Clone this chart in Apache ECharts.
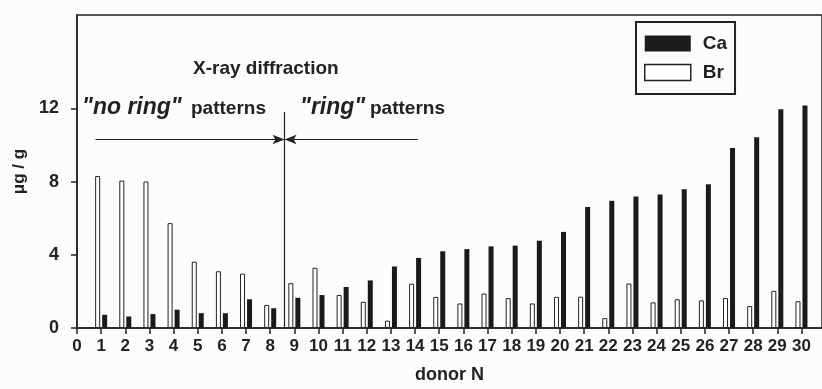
<!DOCTYPE html>
<html>
<head>
<meta charset="utf-8">
<script src="https://cdn.jsdelivr.net/npm/echarts@6/dist/echarts.min.js"></script>
<style>
  html, body {margin: 0; padding: 0; background: #fcfcfc;}
  #chart {width: 822px; height: 389px;}
</style>
</head>
<body>
<div id="chart"></div>
<script>
const donors = [1, 2, 3, 4, 5, 6, 7, 8, 9, 10, 11, 12, 13, 14, 15, 16, 17, 18, 19, 20,
  21, 22, 23, 24, 25, 26, 27, 28, 29, 30];
const br = [8.3, 8.05, 8.0, 5.73, 3.62, 3.1, 2.97, 1.26, 2.45, 3.29, 1.8, 1.43, 0.4, 2.42, 1.7,
  1.34, 1.88, 1.63, 1.34, 1.7, 1.71, 0.54, 2.43, 1.4, 1.57, 1.51, 1.64, 1.2, 2.03, 1.46];
const ca = [0.72, 0.63, 0.76, 1.0, 0.81, 0.81, 1.57, 1.08, 1.65, 1.8, 2.24, 2.6, 3.36, 3.83, 4.19,
  4.31, 4.46, 4.5, 4.77, 5.25, 6.61, 6.95, 7.19, 7.3, 7.58, 7.86, 9.83, 10.42, 11.95, 12.16];
const yTicks = [0, 4, 8, 12];
// divider between "no ring" and "ring" groups, arrow level
const divider = 8.45;
const dividerTop = 11.8;
const arrowY = 10.3;
const arrowLeft = 0.62;
const arrowRight = 13.97;

const ink = '#222';
const font = 'Liberation Sans, Arial, sans-serif';

const chart = echarts.init(document.getElementById('chart'));

chart.setOption({
  backgroundColor: '#fcfcfc',
  animation: false,
  grid: {
    left: 77, right: -5, top: 15, bottom: 58,
    show: true, borderColor: ink, borderWidth: 1.5
  },
  legend: {
    orient: 'vertical',
    left: 636, top: 22,
    itemWidth: 46, itemHeight: 16, itemGap: 10,
    borderColor: ink, borderWidth: 2,
    padding: [12, 8, 12, 8],
    icon: 'rect',
    textStyle: {fontFamily: font, fontWeight: 'bold', fontSize: 19, color: ink, padding: [0, 0, 0, 7]},
    data: [
      {name: 'Ca', itemStyle: {color: '#1a1a1a'}},
      {name: 'Br', itemStyle: {color: '#fff', borderColor: ink, borderWidth: 1.5}}
    ]
  },
  xAxis: {
    type: 'value',
    min: 0, max: 30.85, interval: 1,
    name: 'donor N',
    nameLocation: 'middle',
    nameGap: 38,
    nameTextStyle: {fontFamily: font, fontWeight: 'bold', fontSize: 18, color: ink},
    axisLine: {show: true, lineStyle: {color: ink, width: 1.5}},
    axisTick: {show: true, length: 6, lineStyle: {color: ink, width: 1.5}},
    axisLabel: {fontFamily: font, fontWeight: 'bold', fontSize: 17, color: ink, margin: 10, showMaxLabel: false},
    splitLine: {show: false}
  },
  yAxis: {
    type: 'value',
    min: 0, max: 17.1,
    name: 'μg / g',
    nameLocation: 'middle',
    nameRotate: 90,
    nameGap: 46,
    nameTextStyle: {fontFamily: font, fontWeight: 'bold', fontSize: 17, color: ink},
    axisLine: {show: true, lineStyle: {color: ink, width: 1.5}},
    axisTick: {show: true, length: 6, customValues: yTicks, lineStyle: {color: ink, width: 1.5}},
    axisLabel: {fontFamily: font, fontWeight: 'bold', fontSize: 18, color: ink, margin: 18, customValues: yTicks},
    splitLine: {show: false}
  },
  series: [
    {
      name: 'Br',
      type: 'bar',
      barWidth: 5,
      barGap: '40%',
      data: donors.map((d, i) => [d, br[i]]),
      itemStyle: {color: '#fff', borderColor: ink, borderWidth: 1}
    },
    {
      name: 'Ca',
      type: 'bar',
      barWidth: 5,
      barGap: '40%',
      data: donors.map((d, i) => [d, ca[i]]),
      itemStyle: {color: '#1a1a1a'},
      markLine: {
        silent: true,
        symbol: ['none', 'none'],
        label: {show: false},
        lineStyle: {color: ink, width: 1.2, type: 'solid'},
        data: [
          [{coord: [divider, 0]}, {coord: [divider, dividerTop]}],
          [{coord: [arrowLeft, arrowY], symbol: 'none'},
           {coord: [divider, arrowY], symbol: 'arrow', symbolSize: [7, 12]}],
          [{coord: [arrowRight, arrowY], symbol: 'none'},
           {coord: [divider, arrowY], symbol: 'arrow', symbolSize: [7, 12]}]
        ]
      }
    }
  ],
  graphic: [
    {type: 'text', left: 193, top: 59, style: {text: 'X-ray diffraction', fontFamily: font, fontWeight: 'bold', fontSize: 19, fill: ink}},
    {type: 'text', left: 82, top: 96, style: {text: '"no ring"', fontFamily: font, fontWeight: 'bold', fontStyle: 'italic', fontSize: 23, fill: ink}},
    {type: 'text', left: 191, top: 99, style: {text: 'patterns', fontFamily: font, fontWeight: 'bold', fontSize: 19, fill: ink}},
    {type: 'text', left: 300, top: 96, style: {text: '"ring"', fontFamily: font, fontWeight: 'bold', fontStyle: 'italic', fontSize: 23, fill: ink}},
    {type: 'text', left: 370, top: 99, style: {text: 'patterns', fontFamily: font, fontWeight: 'bold', fontSize: 19, fill: ink}}
  ]
});
</script>
</body>
</html>
